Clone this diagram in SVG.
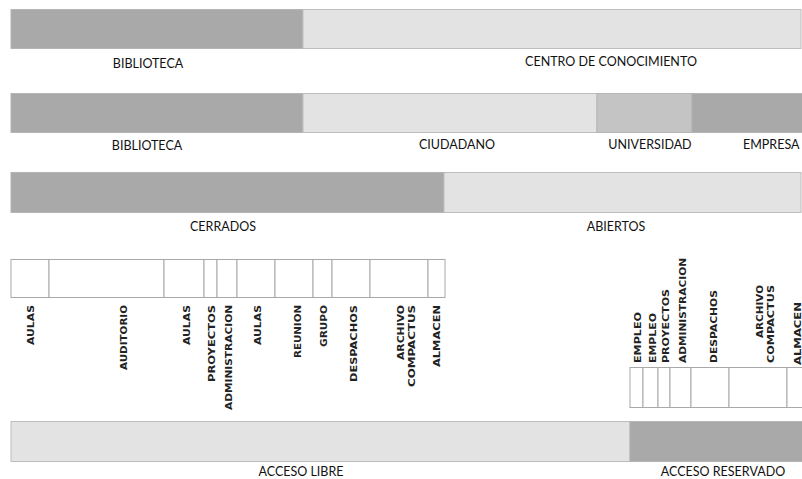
<svg xmlns="http://www.w3.org/2000/svg" width="802" height="479" viewBox="0 0 802 479">
<style>
.dk{fill:#a9a9a9;stroke:#b4b4b4;stroke-width:1}
.lt{fill:#e3e3e3;stroke:#bdbdbd;stroke-width:1}
.md{fill:#c4c4c4;stroke:#b4b4b4;stroke-width:1}
.cell{fill:#ffffff;stroke:#a8a8a8;stroke-width:1}
.lb{font-family:Lato,"Open Sans","Liberation Sans",sans-serif;font-size:12.5px;fill:#111111;text-anchor:middle}
.vl{font-family:"DejaVu Sans","Liberation Sans",sans-serif;font-size:9px;font-weight:bold;fill:#222222}
.ve{text-anchor:end}
.vs{text-anchor:start}
</style>
<rect width="802" height="479" fill="#ffffff"/>
<g id="row1">
  <g id="r1-biblioteca"><rect class="dk" x="11" y="9.5" width="292" height="39"/><text class="lb" x="148" y="68">BIBLIOTECA</text></g>
  <g id="r1-centro"><rect class="lt" x="303" y="9.5" width="498" height="39"/><text class="lb" x="611" y="66">CENTRO DE CONOCIMIENTO</text></g>
</g>
<g id="row2">
  <g id="r2-biblioteca"><rect class="dk" x="11" y="93.5" width="292" height="39"/><text class="lb" x="147" y="150">BIBLIOTECA</text></g>
  <g id="r2-ciudadano"><rect class="lt" x="303" y="93.5" width="294" height="39"/><text class="lb" x="457" y="149">CIUDADANO</text></g>
  <g id="r2-universidad"><rect class="md" x="597" y="93.5" width="95" height="39"/><text class="lb" x="650" y="149">UNIVERSIDAD</text></g>
  <g id="r2-empresa"><rect class="dk" x="692" y="93.5" width="112" height="39"/><text class="lb" x="743" y="149" style="text-anchor:start">EMPRESA</text></g>
</g>
<g id="row3">
  <g id="r3-cerrados"><rect class="dk" x="11" y="172.5" width="433" height="40"/><text class="lb" x="223" y="231">CERRADOS</text></g>
  <g id="r3-abiertos"><rect class="lt" x="444" y="172.5" width="357" height="40"/><text class="lb" x="616" y="231">ABIERTOS</text></g>
</g>
<g id="table-left">
  <g id="tl-aulas1"><rect class="cell" x="11" y="259.5" width="38" height="38"/><text class="vl ve" transform="translate(33.5,305) rotate(-90)" textLength="40" lengthAdjust="spacingAndGlyphs">AULAS</text></g>
  <g id="tl-auditorio"><rect class="cell" x="49" y="259.5" width="115" height="38"/><text class="vl ve" transform="translate(126.5,305) rotate(-90)" textLength="65" lengthAdjust="spacingAndGlyphs">AUDITORIO</text></g>
  <g id="tl-aulas2"><rect class="cell" x="164" y="259.5" width="40" height="38"/><text class="vl ve" transform="translate(189.5,305) rotate(-90)" textLength="40" lengthAdjust="spacingAndGlyphs">AULAS</text></g>
  <g id="tl-proyectos"><rect class="cell" x="204" y="259.5" width="13" height="38"/><text class="vl ve" transform="translate(214.5,305) rotate(-90)" textLength="77" lengthAdjust="spacingAndGlyphs">PROYECTOS</text></g>
  <g id="tl-administracion"><rect class="cell" x="217" y="259.5" width="20" height="38"/><text class="vl ve" transform="translate(231.5,305) rotate(-90)" textLength="105" lengthAdjust="spacingAndGlyphs">ADMINISTRACION</text></g>
  <g id="tl-aulas3"><rect class="cell" x="237" y="259.5" width="38" height="38"/><text class="vl ve" transform="translate(260.5,305) rotate(-90)" textLength="40" lengthAdjust="spacingAndGlyphs">AULAS</text></g>
  <g id="tl-reunion"><rect class="cell" x="275" y="259.5" width="38" height="38"/><text class="vl ve" transform="translate(300.5,305) rotate(-90)" textLength="53" lengthAdjust="spacingAndGlyphs">REUNION</text></g>
  <g id="tl-grupo"><rect class="cell" x="313" y="259.5" width="19" height="38"/><text class="vl ve" transform="translate(326.5,305) rotate(-90)" textLength="42" lengthAdjust="spacingAndGlyphs">GRUPO</text></g>
  <g id="tl-despachos"><rect class="cell" x="332" y="259.5" width="38" height="38"/><text class="vl ve" transform="translate(356.5,305) rotate(-90)" textLength="77" lengthAdjust="spacingAndGlyphs">DESPACHOS</text></g>
  <g id="tl-archivo"><rect class="cell" x="370" y="259.5" width="58" height="38"/><text class="vl ve" transform="translate(403.5,305) rotate(-90)" textLength="55" lengthAdjust="spacingAndGlyphs">ARCHIVO</text><text class="vl ve" transform="translate(414.5,305) rotate(-90)" textLength="82" lengthAdjust="spacingAndGlyphs">COMPACTUS</text></g>
  <g id="tl-almacen"><rect class="cell" x="428" y="259.5" width="17" height="38"/><text class="vl ve" transform="translate(439.5,305) rotate(-90)" textLength="62" lengthAdjust="spacingAndGlyphs">ALMACEN</text></g>
</g>
<g id="table-right">
  <g id="tr-empleo1"><rect class="cell" x="630" y="367.5" width="13" height="40"/><text class="vl vs" transform="translate(640.5,363) rotate(-90)" textLength="51" lengthAdjust="spacingAndGlyphs">EMPLEO</text></g>
  <g id="tr-empleo2"><rect class="cell" x="643" y="367.5" width="15" height="40"/><text class="vl vs" transform="translate(655.5,363) rotate(-90)" textLength="50" lengthAdjust="spacingAndGlyphs">EMPLEO</text></g>
  <g id="tr-proyectos"><rect class="cell" x="658" y="367.5" width="12" height="40"/><text class="vl vs" transform="translate(668.5,363) rotate(-90)" textLength="74" lengthAdjust="spacingAndGlyphs">PROYECTOS</text></g>
  <g id="tr-administracion"><rect class="cell" x="670" y="367.5" width="21" height="40"/><text class="vl vs" transform="translate(685.5,363) rotate(-90)" textLength="105" lengthAdjust="spacingAndGlyphs">ADMINISTRACION</text></g>
  <g id="tr-despachos"><rect class="cell" x="691" y="367.5" width="38" height="40"/><text class="vl vs" transform="translate(716.5,363) rotate(-90)" textLength="73" lengthAdjust="spacingAndGlyphs">DESPACHOS</text></g>
  <g id="tr-archivo"><rect class="cell" x="729" y="367.5" width="58" height="40"/><text class="vl ve" transform="translate(762.5,285) rotate(-90)" textLength="53" lengthAdjust="spacingAndGlyphs">ARCHIVO</text><text class="vl vs" transform="translate(773.5,363) rotate(-90)" textLength="78" lengthAdjust="spacingAndGlyphs">COMPACTUS</text></g>
  <g id="tr-almacen"><rect class="cell" x="787" y="367.5" width="20" height="40"/><text class="vl vs" transform="translate(800.5,365) rotate(-90)" textLength="63" lengthAdjust="spacingAndGlyphs">ALMACEN</text></g>
</g>
<g id="row5">
  <g id="r5-libre"><rect class="lt" x="11" y="421.5" width="619" height="40"/><text class="lb" x="301" y="476">ACCESO LIBRE</text></g>
  <g id="r5-reservado"><rect class="dk" x="630" y="421.5" width="174" height="40"/><text class="lb" x="723" y="476">ACCESO RESERVADO</text></g>
</g>
<g id="connectors"></g>
</svg>
